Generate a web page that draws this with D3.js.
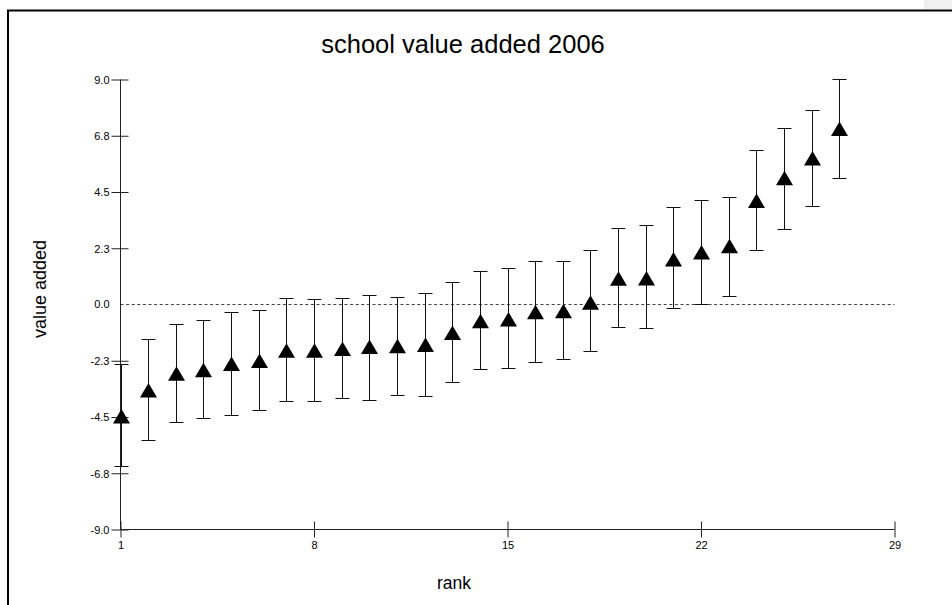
<!DOCTYPE html>
<html>
<head>
<meta charset="utf-8">
<script src="https://cdn.jsdelivr.net/npm/d3@7/dist/d3.min.js"></script>
<style>
  html, body { margin: 0; padding: 0; background: #fff; }
  svg { display: block; font-family: "Liberation Sans", Arial, sans-serif; }
</style>
</head>
<body>
<svg id="chart" width="952" height="605"></svg>
<script>
// School value-added estimates, ranked, with interval bounds
const ranks = d3.range(1, 28);
const valueAdded = [-4.48, -3.44, -2.77, -2.63, -2.38, -2.26, -1.85, -1.85, -1.78, -1.70,
                    -1.67, -1.62, -1.14, -0.67, -0.60, -0.31, -0.27, 0.07, 1.03, 1.04,
                    1.80, 2.08, 2.33, 4.14, 5.05, 5.84, 7.02];
const upperBound = [-2.38, -1.39, -0.78, -0.63, -0.29, -0.23, 0.28, 0.24, 0.28, 0.40,
                    0.32, 0.47, 0.89, 1.34, 1.48, 1.74, 1.74, 2.17, 3.06, 3.18,
                    3.89, 4.18, 4.32, 6.20, 7.07, 7.78, 9.02];
const lowerBound = [-6.45, -5.42, -4.71, -4.55, -4.40, -4.21, -3.86, -3.86, -3.73, -3.80,
                    -3.61, -3.64, -3.09, -2.59, -2.55, -2.29, -2.17, -1.87, -0.89, -0.94,
                    -0.13, 0.04, 0.35, 2.17, 3.04, 3.94, 5.05];

const xTicks = [1, 8, 15, 22, 29];
const yTicks = [-9, -6.75, -4.5, -2.25, 0, 2.25, 4.5, 6.75, 9];
const yTickLabels = ["-9.0", "-6.8", "-4.5", "-2.3", "0.0", "2.3", "4.5", "6.8", "9.0"];

const svg = d3.select("#chart");

// page frame
svg.append("rect").attr("x", 924).attr("y", 0).attr("width", 28).attr("height", 9).attr("fill", "#f0f0f0");
svg.append("path")
  .attr("d", "M8,605 V10.5 H952")
  .attr("fill", "none").attr("stroke", "#000").attr("stroke-width", 2);

const x = d3.scaleLinear().domain([1, 29]).range([120.5, 894.5]);
const y = d3.scaleLinear().domain([-9, 9]).range([529.5, 79.5]);

// zero reference line
svg.append("line")
  .attr("x1", x(1)).attr("x2", x(29))
  .attr("y1", y(0)).attr("y2", y(0))
  .attr("stroke", "#444").attr("stroke-width", 1)
  .attr("stroke-dasharray", "3,2.6");

const tickFont = 11;

// y axis
const yAxis = svg.append("g").attr("transform", `translate(${x(1)},0)`)
  .call(d3.axisLeft(y).tickValues(yTicks.filter(v => v !== 0)).tickSize(8)
        .tickFormat(v => yTickLabels[yTicks.indexOf(v)]));
yAxis.select(".domain").attr("d", `M0,${y(-9)}V${y(9)}`).attr("stroke", "#222");
yAxis.selectAll(".tick line").attr("x1", 8).attr("x2", -9).attr("stroke", "#222");
yAxis.selectAll(".tick text").attr("x", -11).attr("dy", "0.36em")
  .attr("font-size", tickFont).attr("font-family", "Liberation Sans, Arial, sans-serif").attr("fill", "#000");
// zero label sits without a tick mark
yAxis.append("text").attr("x", -11).attr("y", y(0)).attr("dy", "0.36em")
  .attr("text-anchor", "end").attr("font-size", tickFont).attr("fill", "#000").text(yTickLabels[yTicks.indexOf(0)]);

// x axis
const xAxis = svg.append("g").attr("transform", `translate(0,${y(-9)})`)
  .call(d3.axisBottom(x).tickValues(xTicks).tickSize(8).tickFormat(d3.format("d")));
xAxis.select(".domain").attr("d", `M${x(1)},0H${x(29)}`).attr("stroke", "#222");
xAxis.selectAll(".tick line").attr("y1", -8).attr("y2", 8).attr("stroke", "#222");
xAxis.selectAll(".tick text").attr("y", 12)
  .attr("font-size", tickFont).attr("font-family", "Liberation Sans, Arial, sans-serif").attr("fill", "#000");

// error bars
const rows = ranks.map((r, i) => ({ r, v: valueAdded[i], lo: lowerBound[i], hi: upperBound[i] }));
const capW = 7;
const bars = svg.append("g").attr("stroke", "#111").attr("stroke-width", 1).attr("fill", "none");
bars.selectAll("path").data(rows).join("path")
  .attr("d", d => {
    const cx = Math.round(x(d.r)) + 0.5, t = Math.round(y(d.hi)) + 0.5, b = Math.round(y(d.lo)) + 0.5;
    return `M${cx - capW},${t}H${cx + capW}M${cx},${t}V${b}M${cx - capW},${b}H${cx + capW}`;
  });

// triangle markers
svg.append("g").selectAll("path").data(rows).join("path")
  .attr("d", "M0,-7.5L8.5,7L-8.5,7Z")
  .attr("transform", d => `translate(${Math.round(x(d.r)) + 0.5},${y(d.v)})`)
  .attr("fill", "#000");

// titles
svg.append("text").attr("x", 463).attr("y", 53).attr("text-anchor", "middle")
  .attr("font-size", 25.5).text("school value added 2006");
svg.append("text").attr("transform", `translate(46,${289}) rotate(-90)`).attr("text-anchor", "middle")
  .attr("font-size", 18).text("value added");
svg.append("text").attr("x", 454).attr("y", 589).attr("text-anchor", "middle")
  .attr("font-size", 17.5).text("rank");
</script>
</body>
</html>
